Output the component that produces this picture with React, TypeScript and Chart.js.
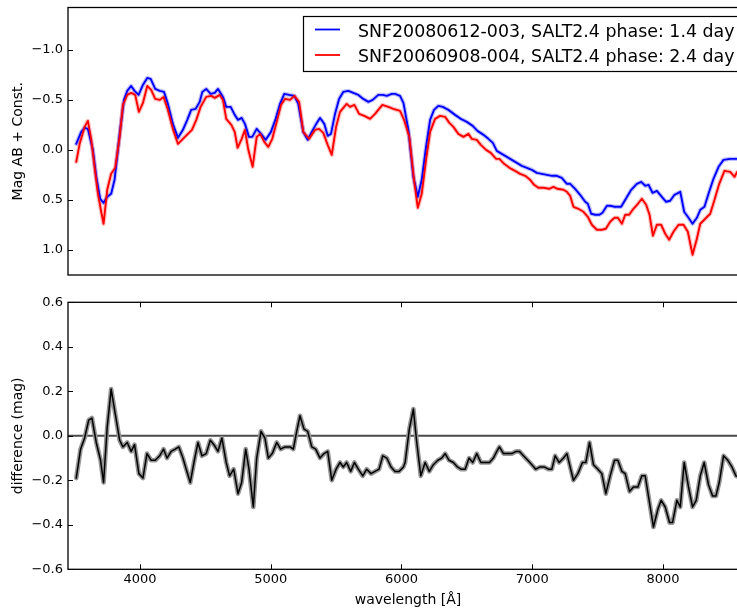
import React, { useEffect, useRef } from "react";
import { Chart, registerables } from "chart.js";

Chart.register(...registerables);

const FONT = "'DejaVu Sans', 'Liberation Sans', sans-serif";

// ---------------- data ----------------
const blueWave = [
  3513, 3551, 3577, 3602, 3640, 3666, 3696, 3722, 3750, 3780,
  3806, 3845, 3878, 3903, 3933, 3959, 3990, 4023, 4056, 4082,
  4117, 4151, 4184, 4214, 4252, 4291, 4329, 4362, 4392, 4426,
  4457, 4477, 4507, 4541, 4572, 4597, 4635, 4660, 4694, 4725,
  4750, 4778, 4803, 4834, 4859, 4893, 4926, 4962, 5002, 5038,
  5071, 5104, 5140, 5181, 5211, 5249, 5283, 5314, 5344, 5377,
  5410, 5436, 5461, 5492, 5523, 5555, 5594, 5632, 5670, 5708,
  5747, 5780, 5823, 5857, 5888, 5926, 5951, 5989, 6015, 6053,
  6091, 6125, 6155, 6188, 6219, 6249, 6282, 6316, 6359, 6410,
  6454, 6500, 6545, 6581, 6627, 6665, 6699, 6729, 6767, 6806,
  6844, 6882, 6920, 6959, 6997, 7035, 7073, 7112, 7150, 7188,
  7226, 7265, 7290, 7328, 7366, 7405, 7425, 7451, 7481, 7514,
  7537, 7571, 7596, 7629, 7680, 7716, 7757, 7800, 7833, 7864,
  7889, 7920, 7953, 7991, 8024, 8055, 8088, 8132, 8162, 8195,
  8226, 8259, 8285, 8317, 8348, 8386, 8425, 8463, 8514, 8565,
  8600,
];
const blueMag = [
  -0.06, -0.18, -0.22, -0.21, 0.0, 0.27, 0.49, 0.53, 0.47, 0.44,
  0.3, -0.16, -0.5, -0.59, -0.64, -0.59, -0.55, -0.65, -0.72, -0.71,
  -0.61, -0.59, -0.58, -0.46, -0.26, -0.12, -0.2, -0.3, -0.4, -0.41,
  -0.48, -0.58, -0.61, -0.56, -0.57, -0.61, -0.53, -0.43, -0.43, -0.35,
  -0.3, -0.32, -0.26, -0.13, -0.13, -0.21, -0.16, -0.1, -0.18, -0.31,
  -0.46, -0.56, -0.55, -0.54, -0.46, -0.18, -0.1, -0.18, -0.25, -0.32,
  -0.26, -0.14, -0.16, -0.36, -0.51, -0.58, -0.59, -0.57, -0.55, -0.51,
  -0.48, -0.5, -0.55, -0.55, -0.54, -0.56, -0.56, -0.54, -0.47, -0.2,
  0.27, 0.47, 0.3, -0.03, -0.3, -0.4, -0.44, -0.43, -0.4, -0.35,
  -0.31, -0.28, -0.24, -0.19, -0.15, -0.11, -0.07, 0.01, 0.04, 0.07,
  0.1, 0.13, 0.16, 0.18, 0.2, 0.23, 0.24, 0.25, 0.26, 0.26,
  0.28, 0.34, 0.34, 0.39, 0.45, 0.52, 0.54, 0.64, 0.65, 0.65,
  0.63, 0.56, 0.56, 0.57, 0.57, 0.49, 0.4, 0.34, 0.32, 0.36,
  0.35, 0.43, 0.41, 0.47, 0.52, 0.51, 0.45, 0.42, 0.62, 0.68,
  0.74, 0.68, 0.6, 0.57, 0.44, 0.29, 0.17, 0.1, 0.09, 0.09,
  0.09,
];

const redWave = [
  3513, 3539, 3577, 3602, 3627, 3653, 3679, 3704, 3722, 3750,
  3780, 3811, 3845, 3870, 3903, 3933, 3964, 3992, 4023, 4056,
  4086, 4117, 4151, 4181, 4214, 4252, 4291, 4329, 4367, 4398,
  4431, 4464, 4507, 4546, 4572, 4610, 4635, 4660, 4699, 4725,
  4747, 4778, 4803, 4829, 4862, 4893, 4920, 4951, 4982, 5012,
  5046, 5079, 5109, 5148, 5181, 5217, 5249, 5293, 5339, 5370,
  5402, 5436, 5467, 5500, 5530, 5581, 5607, 5640, 5676, 5716,
  5760, 5798, 5854, 5900, 5938, 5989, 6020, 6060, 6096, 6125,
  6155, 6188, 6219, 6257, 6295, 6334, 6366, 6397, 6435, 6474,
  6512, 6538, 6576, 6607, 6647, 6683, 6724, 6749, 6785, 6826,
  6869, 6907, 6946, 6984, 7014, 7047, 7086, 7129, 7162, 7193,
  7239, 7265, 7290, 7315, 7353, 7392, 7425, 7456, 7494, 7532,
  7563, 7596, 7629, 7655, 7686, 7711, 7741, 7774, 7808, 7838,
  7871, 7897, 7923, 7953, 7986, 8017, 8047, 8080, 8119, 8157,
  8190, 8226, 8259, 8285, 8323, 8361, 8394, 8430, 8470, 8514,
  8547, 8568, 8600,
];
const redMag = [
  0.12, -0.06, -0.23, -0.29, -0.11, 0.17, 0.44, 0.62, 0.74, 0.4,
  0.24, 0.18, -0.13, -0.45, -0.55, -0.57, -0.55, -0.38, -0.47, -0.64,
  -0.6, -0.51, -0.5, -0.53, -0.4, -0.21, -0.06, -0.11, -0.16, -0.2,
  -0.3, -0.43, -0.53, -0.54, -0.52, -0.55, -0.5, -0.31, -0.25, -0.18,
  -0.02, -0.11, -0.2, 0.0, 0.17, -0.13, -0.16, -0.08, -0.03, -0.11,
  -0.28, -0.45, -0.51, -0.5, -0.54, -0.48, -0.18, -0.11, -0.2, -0.21,
  -0.17, -0.05, 0.05, -0.23, -0.38, -0.46, -0.43, -0.45, -0.36, -0.34,
  -0.31, -0.36, -0.45, -0.43, -0.41, -0.39, -0.3, -0.13, 0.3, 0.58,
  0.44, 0.1, -0.18, -0.31, -0.34, -0.33, -0.27, -0.23, -0.16, -0.13,
  -0.16, -0.11, -0.1, -0.05, 0.0, 0.03, 0.09, 0.09, 0.14, 0.18,
  0.21, 0.24, 0.26, 0.3, 0.35, 0.38, 0.38, 0.39, 0.37, 0.39,
  0.4, 0.42, 0.46, 0.57, 0.59, 0.62, 0.67, 0.75, 0.8, 0.8,
  0.79, 0.72, 0.68, 0.68, 0.74, 0.65, 0.65, 0.59, 0.54, 0.49,
  0.55, 0.65, 0.86, 0.75, 0.75, 0.84, 0.9, 0.82, 0.75, 0.75,
  0.82, 1.05, 0.89, 0.74, 0.69, 0.64, 0.5, 0.34, 0.21, 0.22,
  0.27, 0.22, 0.22,
];

const diffWave = [
  3513, 3546, 3577, 3608, 3633, 3666, 3699, 3722, 3750, 3780,
  3811, 3845, 3870, 3903, 3933, 3959, 3992, 4023, 4054, 4086,
  4117, 4151, 4181, 4207, 4239, 4270, 4298, 4329, 4354, 4385,
  4413, 4444, 4474, 4507, 4538, 4566, 4597, 4627, 4660, 4686,
  4717, 4750, 4778, 4809, 4834, 4867, 4893, 4926, 4956, 4982,
  5012, 5046, 5076, 5109, 5148, 5173, 5199, 5224, 5255, 5283,
  5314, 5344, 5377, 5408, 5436, 5467, 5500, 5530, 5555, 5581,
  5612, 5640, 5670, 5704, 5734, 5767, 5798, 5829, 5857, 5888,
  5920, 5951, 5982, 6015, 6028, 6060, 6091, 6117, 6148, 6181,
  6213, 6244, 6278, 6308, 6334, 6364, 6397, 6428, 6456, 6487,
  6517, 6545, 6576, 6607, 6640, 6673, 6703, 6729, 6749, 6780,
  6810, 6844, 6877, 6902, 6933, 6966, 6997, 7027, 7060, 7091,
  7124, 7150, 7175, 7206, 7239, 7265, 7290, 7315, 7349, 7384,
  7410, 7438, 7468, 7502, 7532, 7563, 7596, 7629, 7655, 7686,
  7711, 7744, 7774, 7808, 7838, 7864, 7894, 7927, 7961, 7986,
  8017, 8050, 8073, 8106, 8132, 8162, 8195, 8226, 8254, 8285,
  8315, 8348, 8379, 8405, 8430, 8463, 8496, 8527, 8558, 8600,
];
const diffMag = [
  -0.19, -0.06, -0.01, 0.07, 0.08, -0.03, -0.11, -0.21, 0.04, 0.21,
  0.1, -0.02, -0.05, -0.03, -0.07, -0.04, -0.17, -0.19, -0.08, -0.11,
  -0.11, -0.09, -0.06, -0.1, -0.07, -0.06, -0.05, -0.1, -0.15, -0.21,
  -0.12, -0.03, -0.09, -0.08, -0.02, -0.04, -0.07, -0.01, -0.12, -0.18,
  -0.15, -0.26, -0.21, -0.06, -0.15, -0.32, -0.1, 0.02, -0.01, -0.1,
  -0.08, -0.03, -0.06, -0.05, -0.05, -0.06, 0.02, 0.09, 0.03, 0.02,
  -0.05, -0.06, -0.1, -0.08, -0.07, -0.2, -0.15, -0.12, -0.14, -0.12,
  -0.16, -0.12, -0.15, -0.18, -0.15, -0.17, -0.16, -0.15, -0.09, -0.1,
  -0.14, -0.16, -0.16, -0.14, -0.12, 0.03, 0.12, -0.03, -0.18, -0.12,
  -0.16, -0.13, -0.11, -0.1, -0.08, -0.11, -0.12, -0.14, -0.15, -0.15,
  -0.1, -0.12, -0.08, -0.12, -0.12, -0.12, -0.1, -0.07, -0.05, -0.08,
  -0.08, -0.08, -0.07, -0.07, -0.09, -0.11, -0.13, -0.15, -0.14, -0.14,
  -0.15, -0.15, -0.09, -0.12, -0.1, -0.08, -0.14, -0.2, -0.17, -0.12,
  -0.12, -0.03, -0.13, -0.15, -0.17, -0.26, -0.18, -0.11, -0.11, -0.16,
  -0.17, -0.25, -0.23, -0.23, -0.18, -0.18, -0.29, -0.41, -0.33, -0.29,
  -0.32, -0.39, -0.39, -0.29, -0.32, -0.12, -0.23, -0.32, -0.29, -0.18,
  -0.12, -0.22, -0.27, -0.27, -0.21, -0.09, -0.11, -0.14, -0.18, -0.19,
];

const legendLabels = [
  "SNF20080612-003, SALT2.4 phase: 1.4 day",
  "SNF20060908-004, SALT2.4 phase: 2.4 day",
];
const magTicks = [-1.0, -0.5, 0.0, 0.5, 1.0];
const diffTicks = [-0.6, -0.4, -0.2, 0.0, 0.2, 0.4, 0.6];
const waveTicks = [4000, 5000, 6000, 7000, 8000];
const X_MIN = 3450;
const X_MAX = 8650;
const MAG_MIN = -1.425;
const MAG_MAX = 1.253;
const DIFF_MIN = -0.6;
const DIFF_MAX = 0.6;
const zeroLevel = 0;

// ---------------- helpers ----------------
const pts = (xs: number[], ys: number[]) => xs.map((x, i) => ({ x, y: ys[i] }));
const fmt = (v: number) => Number(v).toFixed(1).replace("-", "\u2212");

const CANVAS_W = 748;

function framePlugin(xTicks: boolean, yTitle: string, xTitle?: string, legend?: boolean) {
  return {
    id: "frameAndTitles",
    afterDatasetsDraw(chart: any) {
      const { ctx, chartArea: a, scales } = chart;
      ctx.save();
      ctx.strokeStyle = "#000";
      ctx.lineWidth = 1;
      const ys = scales.y;
      ys.ticks.forEach((t: any) => {
        const py = Math.round(ys.getPixelForValue(t.value)) + 0.5;
        ctx.beginPath();
        ctx.moveTo(a.left, py);
        ctx.lineTo(a.left + 5, py);
        ctx.stroke();
      });
      if (xTicks) {
        const xs = scales.x;
        xs.ticks.forEach((t: any) => {
          const px = Math.round(xs.getPixelForValue(t.value)) + 0.5;
          ctx.beginPath();
          ctx.moveTo(px, a.top);
          ctx.lineTo(px, a.top + 5);
          ctx.moveTo(px, a.bottom);
          ctx.lineTo(px, a.bottom - 5);
          ctx.stroke();
        });
      }
      ctx.lineWidth = 1.3;
      ctx.strokeRect(a.left, a.top, a.right - a.left, a.bottom - a.top);

      // axis titles
      ctx.fillStyle = "#000";
      ctx.font = `14px ${FONT}`;
      ctx.textAlign = "center";
      ctx.textBaseline = "middle";
      ctx.save();
      ctx.translate(18, (a.top + a.bottom) / 2);
      ctx.rotate(-Math.PI / 2);
      ctx.fillText(yTitle, 0, 0);
      ctx.restore();
      if (xTitle) {
        ctx.fillText(xTitle, (a.left + a.right) / 2, a.bottom + 31);
      }

      if (legend) {
        const bx = 303, by = 16, bh = 55;
        ctx.fillStyle = "#fff";
        ctx.fillRect(bx, by, CANVAS_W - bx + 10, bh);
        ctx.strokeStyle = "#000";
        ctx.lineWidth = 1.2;
        ctx.strokeRect(bx + 0.5, by + 0.5, CANVAS_W - bx + 10, bh);
        const colors = ["#0000ff", "#ff0000"];
        const rowY = [29.5, 55];
        ctx.font = `17.4px ${FONT}`;
        ctx.textAlign = "left";
        ctx.textBaseline = "alphabetic";
        legendLabels.forEach((lbl, i) => {
          ctx.strokeStyle = colors[i];
          ctx.lineWidth = 1.8;
          ctx.beginPath();
          ctx.moveTo(315, rowY[i]);
          ctx.lineTo(340, rowY[i]);
          ctx.stroke();
          ctx.fillStyle = "#000";
          ctx.fillText(lbl, 358, rowY[i] + 7);
        });
      }
      ctx.restore();
    },
  };
}

function TopChart() {
  const ref = useRef<HTMLCanvasElement | null>(null);
  useEffect(() => {
    if (!ref.current) return;
    const blue = pts(blueWave, blueMag);
    const red = pts(redWave, redMag);
    const chart = new Chart(ref.current, {
      type: "line",
      data: {
        datasets: [
          { data: red, borderColor: "#ff0000", borderWidth: 1.9, order: 1 },
          { data: blue, borderColor: "#0000ff", borderWidth: 1.9, order: 2 },
          { data: red, borderColor: "rgba(255,0,0,0.25)", borderWidth: 4.2, order: 3 },
          { data: blue, borderColor: "rgba(0,0,255,0.25)", borderWidth: 4.2, order: 4 },
        ] as any,
      },
      options: {
        animation: false,
        responsive: false,
        events: [],
        layout: { padding: { top: 7.5, left: 0, right: 0, bottom: 0 } },
        plugins: { legend: { display: false }, tooltip: { enabled: false } },
        elements: {
          point: { radius: 0 },
          line: { tension: 0, fill: false, borderJoinStyle: "round", borderCapStyle: "round" },
        },
        scales: {
          x: {
            type: "linear",
            min: X_MIN,
            max: X_MAX,
            ticks: { display: false },
            grid: { display: false, drawTicks: false },
            border: { display: false },
            afterFit: (s: any) => {
              s.height = 15;
              s.paddingLeft = 0;
              s.paddingRight = 0;
            },
          },
          y: {
            type: "linear",
            reverse: true,
            min: MAG_MIN,
            max: MAG_MAX,
            afterBuildTicks: (s: any) => {
              s.ticks = magTicks.map((v) => ({ value: v }));
            },
            ticks: {
              callback: (v: any) => fmt(v),
              font: { family: FONT, size: 13 },
              color: "#000",
              padding: 5,
            },
            grid: { display: false, drawTicks: false },
            border: { display: false },
            afterFit: (s: any) => {
              s.width = 68;
              s.paddingTop = 0;
              s.paddingBottom = 0;
            },
          },
        } as any,
      },
      plugins: [framePlugin(false, "Mag AB + Const.", undefined, true)],
    } as any);
    return () => chart.destroy();
  }, []);
  return (
    <canvas
      ref={ref}
      width={CANVAS_W}
      height={290}
      style={{ display: "block", width: CANVAS_W, height: 290 }}
    />
  );
}

function BottomChart() {
  const ref = useRef<HTMLCanvasElement | null>(null);
  useEffect(() => {
    if (!ref.current) return;
    const diff = pts(diffWave, diffMag);
    const zero = [
      { x: X_MIN, y: zeroLevel },
      { x: X_MAX, y: zeroLevel },
    ];
    const chart = new Chart(ref.current, {
      type: "line",
      data: {
        datasets: [
          { data: diff, borderColor: "#000000", borderWidth: 1.5, order: 1 },
          { data: diff, borderColor: "#959595", borderWidth: 4.6, order: 2 },
          { data: zero, borderColor: "#4a4a4a", borderWidth: 2, order: 3 },
        ] as any,
      },
      options: {
        animation: false,
        responsive: false,
        events: [],
        layout: { padding: { top: 12.3, left: 0, right: 0, bottom: 0 } },
        plugins: { legend: { display: false }, tooltip: { enabled: false } },
        elements: {
          point: { radius: 0 },
          line: { tension: 0, fill: false, borderJoinStyle: "round", borderCapStyle: "round" },
        },
        scales: {
          x: {
            type: "linear",
            min: X_MIN,
            max: X_MAX,
            afterBuildTicks: (s: any) => {
              s.ticks = waveTicks.map((v) => ({ value: v }));
            },
            ticks: {
              callback: (v: any) => String(v),
              font: { family: FONT, size: 13 },
              color: "#000",
              padding: 3,
              maxRotation: 0,
            },
            grid: { display: false, drawTicks: false },
            border: { display: false },
            afterFit: (s: any) => {
              s.height = 40.7;
              s.paddingLeft = 0;
              s.paddingRight = 0;
            },
          },
          y: {
            type: "linear",
            min: DIFF_MIN,
            max: DIFF_MAX,
            afterBuildTicks: (s: any) => {
              s.ticks = diffTicks.map((v) => ({ value: v }));
            },
            ticks: {
              callback: (v: any) => fmt(v),
              font: { family: FONT, size: 13 },
              color: "#000",
              padding: 5,
            },
            grid: { display: false, drawTicks: false },
            border: { display: false },
            afterFit: (s: any) => {
              s.width = 68;
              s.paddingTop = 0;
              s.paddingBottom = 0;
            },
          },
        } as any,
      },
      plugins: [framePlugin(true, "difference (mag)", "wavelength [\u00C5]")],
    } as any);
    return () => chart.destroy();
  }, []);
  return (
    <canvas
      ref={ref}
      width={CANVAS_W}
      height={320}
      style={{ display: "block", width: CANVAS_W, height: 320 }}
    />
  );
}

export default function App() {
  return (
    <div
      style={{
        position: "fixed",
        left: 0,
        top: 0,
        width: 737,
        height: 610,
        overflow: "hidden",
        background: "#fff",
      }}
    >
      <TopChart />
      <BottomChart />
    </div>
  );
}
